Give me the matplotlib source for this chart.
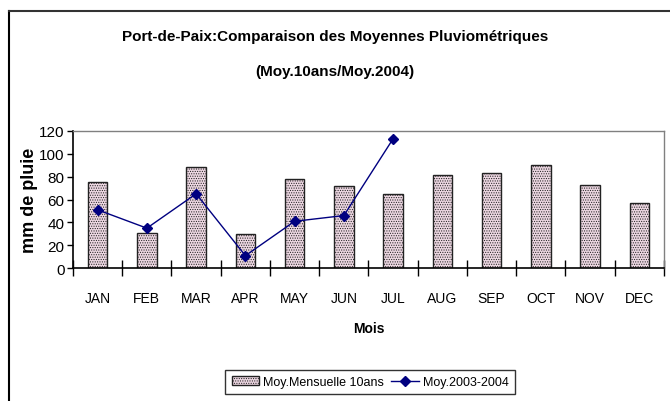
import matplotlib
matplotlib.use("Agg")
import matplotlib.pyplot as plt
from matplotlib.lines import Line2D
import numpy as np

months = ["JAN", "FEB", "MAR", "APR", "MAY", "JUN", "JUL", "AUG", "SEP", "OCT", "NOV", "DEC"]
moy_10ans = [75, 31, 88, 30, 78, 72, 65, 81, 83, 90, 73, 57]
moy_2004 = [51, 35, 65, 11, 41, 46, 113]
yticks = [0, 20, 40, 60, 80, 100, 120]

plt.rcParams['font.family'] = ['Liberation Sans', 'DejaVu Sans']
plt.rcParams['hatch.color'] = '#dcbfcd'
plt.rcParams['hatch.linewidth'] = 0.5

W, H = 670, 402
fig = plt.figure(figsize=(W / 100, H / 100), dpi=100)
ax = fig.add_axes([73 / W, 1 - 269.3 / H, (664 - 73) / W, (269.3 - 131.7) / H])

x = np.arange(len(months))
bars = ax.bar(x, moy_10ans, width=0.4, color='#ecd6e1', edgecolor='#222222', linewidth=1.0,
              hatch='.......', label='Moy.Mensuelle 10ans', zorder=2)
line, = ax.plot(np.arange(len(moy_2004)), moy_2004, color='#000080', linewidth=1.0, marker='D',
                markersize=5, markerfacecolor='#000080', markeredgecolor='#000080',
                label='Moy.2003-2004', zorder=3)

ax.set_xlim(-0.5, len(months) - 0.5)
ax.set_ylim(0, 120)
ax.set_yticks(yticks)
ax.set_yticklabels([str(v) for v in yticks], fontsize=11)
ax.set_xticks(np.arange(-0.5, len(months), 1.0))
ax.set_xticklabels([])
ax.set_xticks(x, minor=True)
ax.set_xticklabels(months, minor=True, fontsize=10)
ax.tick_params(axis='x', which='major', direction='inout', length=11, width=1, color='black')
ax.tick_params(axis='x', which='minor', length=0, pad=16)
ax.tick_params(axis='y', direction='out', length=4, width=1, pad=2)

for s in ['top', 'right']:
    ax.spines[s].set_color('#808080')
    ax.spines[s].set_linewidth(1)
for s in ['left', 'bottom']:
    ax.spines[s].set_color('black')
    ax.spines[s].set_linewidth(1.2)

ax.set_ylabel('mm de pluie', fontsize=13, fontweight='bold', labelpad=1)
ax.set_xlabel('Mois', fontsize=10, fontweight='bold', labelpad=12)

fig.text(0.5, 1 - 37 / H, 'Port-de-Paix:Comparaison des Moyennes Pluviométriques',
         ha='center', va='center', fontsize=11, fontweight='bold')
fig.text(0.5, 1 - 72 / H, '(Moy.10ans/Moy.2004)',
         ha='center', va='center', fontsize=11, fontweight='bold')

leg = fig.legend(handles=[bars, line], labels=['Moy.Mensuelle 10ans', 'Moy.2003-2004'],
                 loc='center', bbox_to_anchor=(370 / W, 1 - 383 / H), ncol=2,
                 fontsize=9, frameon=True, fancybox=False, handlelength=2.2,
                 columnspacing=0.6, handletextpad=0.3, borderpad=0.5)
leg.get_frame().set_edgecolor('black')
leg.get_frame().set_linewidth(1)

# outer chart frame (partially cropped)
fig.add_artist(Line2D([9 / W, 9 / W], [0, 1 - 12 / H], transform=fig.transFigure,
                      color='black', linewidth=1.5))
fig.add_artist(Line2D([9 / W, 1], [1 - 12 / H, 1 - 12 / H], transform=fig.transFigure,
                      color='#333333', linewidth=1.5))

fig.savefig('out.png', dpi=100)
